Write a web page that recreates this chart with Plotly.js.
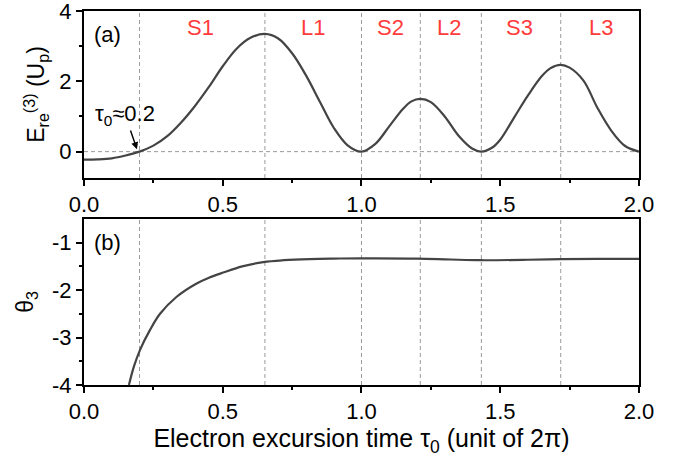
<!DOCTYPE html>
<html>
<head>
<meta charset="utf-8">
<script src="https://cdn.plot.ly/plotly-3.0.1.min.js"></script>
<style>html,body{margin:0;padding:0;background:#fff;}#chart{width:689px;height:458px;}</style>
</head>
<body>
<div id="chart"></div>
<script>
// Panel (a): recollision energy E_re^(3) (Up) vs excursion time tau0
const tauA = [0, 0.05, 0.1, 0.15, 0.2, 0.25, 0.3, 0.35, 0.4, 0.45, 0.5, 0.55, 0.6, 0.652, 0.7, 0.75, 0.8, 0.85, 0.9, 0.95, 1.0,
  1.05, 1.1, 1.15, 1.18, 1.212, 1.25, 1.3, 1.35, 1.4, 1.432, 1.47, 1.5, 1.55, 1.6, 1.65, 1.68, 1.718, 1.75, 1.8, 1.85, 1.9, 1.95, 2.0];
const energyA = [-0.23, -0.22, -0.19, -0.11, 0, 0.17, 0.44, 0.83, 1.3, 1.84, 2.43, 2.93, 3.24, 3.35, 3.22, 2.8, 2.17, 1.42, 0.68, 0.18, 0,
  0.22, 0.72, 1.22, 1.43, 1.5, 1.41, 1.0, 0.45, 0.08, 0, 0.11, 0.34, 0.97, 1.6, 2.15, 2.37, 2.47, 2.39, 2.02, 1.25, 0.6, 0.16, 0];
// Panel (b): theta_3 vs tau0
const tauB = [0.162, 0.18, 0.202, 0.238, 0.274, 0.334, 0.406, 0.45, 0.502, 0.57, 0.646, 0.72, 0.814, 0.9, 1.0, 1.2, 1.32, 1.43, 1.6, 1.72, 1.85, 2.0];
const thetaB = [-4, -3.61, -3.26, -2.84, -2.5, -2.14, -1.86, -1.74, -1.63, -1.5, -1.41, -1.37, -1.345, -1.335, -1.33, -1.335, -1.355, -1.37, -1.36, -1.345, -1.34, -1.34];
// Region boundaries (vertical dashed lines)
const boundaries = [0.2, 0.652, 1.0, 1.212, 1.432, 1.718];
// Region labels and their centre positions
const regionLabels = ['S1', 'L1', 'S2', 'L2', 'S3', 'L3'];
const regionCenters = [0.42, 0.825, 1.106, 1.317, 1.571, 1.862];
const xTicks = [0, 0.5, 1.0, 1.5, 2.0];
const yTicksA = [0, 2, 4];
const yTicksB = [-1, -2, -3, -4];
const yTickTextB = ['-1', '-2', '-3', '-4'];

const FONT = 'Liberation Sans, Arial, sans-serif';
const DASH = '#9a9a9a';
const lineColor = '#444444';

const traces = [
  {x: tauA, y: energyA, xaxis: 'x', yaxis: 'y', mode: 'lines', line: {color: lineColor, width: 2.2, shape: 'spline', smoothing: 1}, showlegend: false, hoverinfo: 'none'},
  {x: tauB, y: thetaB, xaxis: 'x2', yaxis: 'y2', mode: 'lines', line: {color: lineColor, width: 2.2, shape: 'spline', smoothing: 1}, showlegend: false, hoverinfo: 'none'}
];

const shapes = [];
boundaries.forEach(b => {
  shapes.push({type: 'line', xref: 'x', yref: 'y domain', x0: b, x1: b, y0: 0, y1: 1, line: {color: DASH, width: 1, dash: '4px,3px'}, layer: 'below'});
  shapes.push({type: 'line', xref: 'x2', yref: 'y2 domain', x0: b, x1: b, y0: 0, y1: 1, line: {color: DASH, width: 1, dash: '4px,3px'}, layer: 'below'});
});
shapes.push({type: 'line', xref: 'x domain', yref: 'y', x0: 0, x1: 1, y0: 0, y1: 0, line: {color: DASH, width: 1, dash: '4px,3px'}, layer: 'below'});

const annotations = regionLabels.map((t, i) => ({
  text: t, x: regionCenters[i], y: 3.52, xref: 'x', yref: 'y', showarrow: false,
  font: {family: FONT, size: 22, color: '#ff3b3b'}, xanchor: 'center', yanchor: 'middle'
}));
annotations.push({text: '(a)', x: 0.083, y: 3.32, xref: 'x', yref: 'y', showarrow: false, font: {family: FONT, size: 22, color: '#000'}});
annotations.push({text: '(b)', x: 0.083, y: -0.99, xref: 'x2', yref: 'y2', showarrow: false, font: {family: FONT, size: 22, color: '#000'}});
annotations.push({text: 'τ<sub>0</sub>≈0.2', x: 0.191, y: 0.07, xref: 'x', yref: 'y', ax: 0.148, ay: 1.04, axref: 'x', ayref: 'y',
  showarrow: true, arrowhead: 2, arrowsize: 1, arrowwidth: 1.4, arrowcolor: '#000', standoff: 0,
  font: {family: FONT, size: 22, color: '#000'}});

const axisCommon = {
  showline: true, mirror: true, linewidth: 2, linecolor: '#000',
  ticks: 'outside', ticklen: 6, tickwidth: 2, tickcolor: '#000',
  showgrid: false, zeroline: false, ticklabeloverflow: 'allow',
  tickfont: {family: FONT, size: 22, color: '#000'}
};
const minorX = {ticks: 'outside', ticklen: 3, tickwidth: 2, tickcolor: '#000', dtick: 0.25, tick0: 0};

const layout = {
  width: 689, height: 458,
  margin: {l: 84, r: 50, t: 11, b: 73},
  paper_bgcolor: '#fff', plot_bgcolor: '#fff',
  font: {family: FONT, size: 22, color: '#000'},
  xaxis: Object.assign({}, axisCommon, {domain: [0, 1], anchor: 'y', range: [0, 2.0001], tickvals: xTicks, tickformat: '.1f', minor: minorX}),
  yaxis: Object.assign({}, axisCommon, {domain: [0.5535, 1], anchor: 'x', range: [-0.75, 4.002], tickvals: yTicksA,
    minor: {ticks: 'outside', ticklen: 3, tickwidth: 2, tickcolor: '#000', tickvals: [1, 3]},
    title: {text: 'E<sub>re</sub><sup>(3)</sup> (U<sub>p</sub>)', font: {family: FONT, size: 23}, standoff: 8}}),
  xaxis2: Object.assign({}, axisCommon, {domain: [0, 1], anchor: 'y2', range: [0, 2.0001], tickvals: xTicks, tickformat: '.1f', minor: minorX,
    title: {text: 'Electron excursion time τ<sub>0</sub> (unit of 2π)', font: {family: FONT, size: 25}, standoff: 2}}),
  yaxis2: Object.assign({}, axisCommon, {domain: [0, 0.4439], anchor: 'x2', range: [-4.002, -0.5], tickvals: yTicksB, ticktext: yTickTextB,
    minor: {ticks: 'outside', ticklen: 3, tickwidth: 2, tickcolor: '#000', tickvals: [-1.5, -2.5, -3.5]},
    title: {text: 'θ<sub>3</sub>', font: {family: FONT, size: 23}, standoff: 12}}),
  shapes: shapes,
  annotations: annotations
};

Plotly.newPlot('chart', traces, layout, {staticPlot: true, displayModeBar: false});
</script>
</body>
</html>
